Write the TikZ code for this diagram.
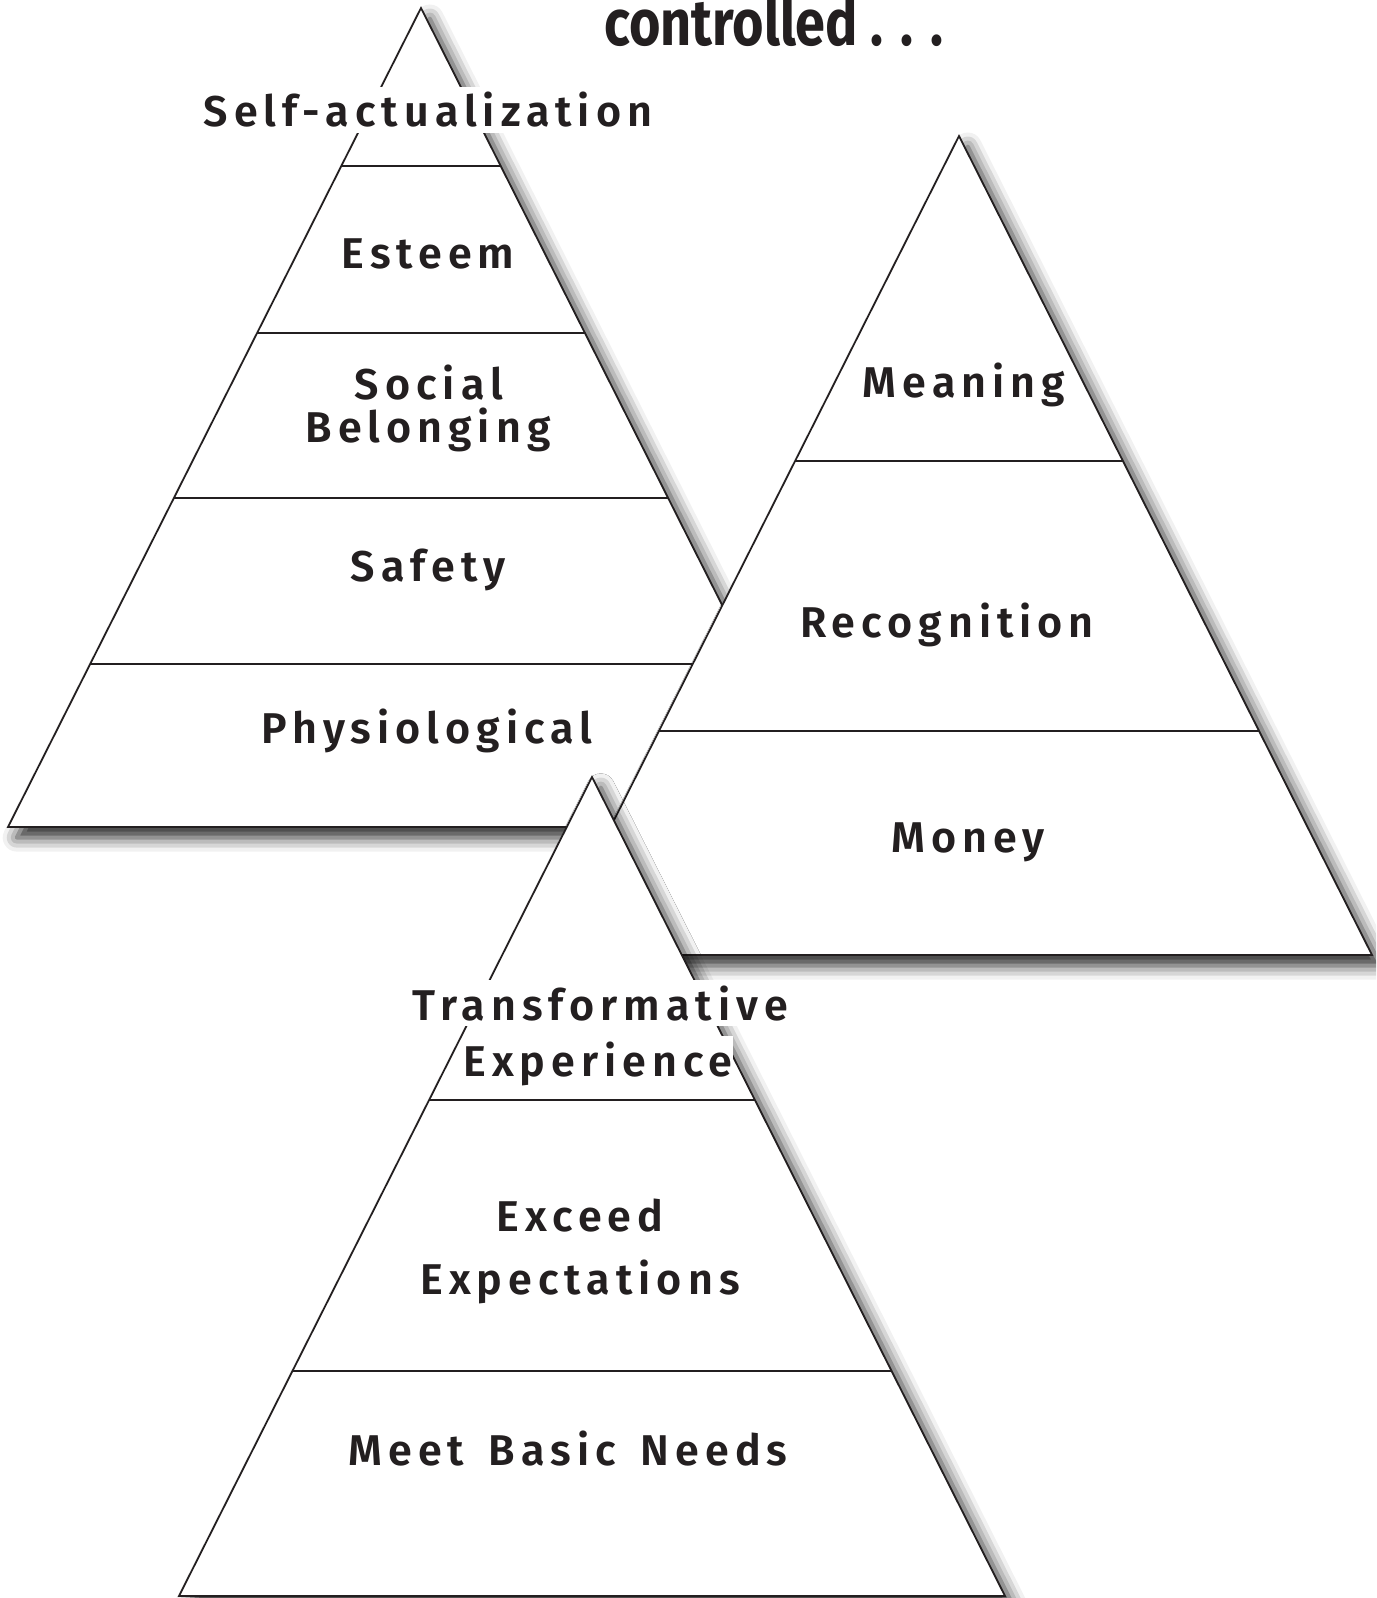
\documentclass[tikz,border=0pt]{standalone}
\usepackage{fontspec}
\usetikzlibrary{shadows.blur}

\newfontfamily\labelfont{Fira Sans SemiBold}[LetterSpace=14, WordSpace=1.5]
\newfontfamily\titlefont{Fira Sans}[FakeStretch=0.83]
\definecolor{ink}{HTML}{231F20}

% one pyramid: #1 apex, #2 depths of the dividing lines below the apex
\newcommand\pyramid[2]{%
  \fill[white, blur shadow={shadow xshift=5pt, shadow yshift=-6pt, shadow blur radius=8pt, shadow opacity=85}]
    (#1) -- ++(-413,819) -- ++(826,0) -- cycle;
  \begin{scope}
    \clip (#1) -- ++(-413,819) -- ++(826,0) -- cycle;
    \foreach \d in {#2}
      \draw[edge, shift={(#1)}] (-430,\d) -- (430,\d);
  \end{scope}
  \draw[edge] (#1) -- ++(-413,819) -- ++(826,0) -- cycle;
}

\begin{document}
\begin{tikzpicture}[
  x=0.02cm, y=-0.02cm,
  edge/.style={draw=ink, line width=1pt, line join=miter},
  level/.style={font=\labelfont\fontsize{24.5}{25}\selectfont, text=ink, fill=white, inner xsep=0pt, inner ysep=3pt, anchor=base},
  heading/.style={font=\titlefont\bfseries\fontsize{37}{40}\selectfont, text=ink, anchor=base}
]
  \useasboundingbox (0,0) rectangle (1376,1598);
  \clip (0,0) rectangle (1376,1598);

  \node[heading] (title) at (774,46) {controlled . . .};

  % needs
  \pyramid{421,8}{158,325,490,656}
  \node[level] (selfact) at (428,127) {Self-actualization};
  \node[level] (esteem) at (428,269) {Esteem};
  \node[level] (social) at (429,399) {Social};
  \node[level] (belong) at (428,442) {Belonging};
  \node[level] (safety) at (428,581) {Safety};
  \node[level] (physio) at (427,743) {Physiological};

  % work
  \pyramid{959,136}{325,595}
  \node[level] (meaning) at (964,397) {Meaning};
  \node[level] (recog) at (947,637) {Recognition};
  \node[level] (money) at (968,852) {Money};

  % customer
  \pyramid{592,777}{323,594}
  \node[level] (transf) at (600,1020) {Transformative};
  \node[level] (exper) at (598,1076) {Experience};
  \node[level] (exceed) at (580,1231) {Exceed};
  \node[level] (expect) at (580,1294) {Expectations};
  \node[level] (basic) at (568,1465) {Meet Basic Needs};
\end{tikzpicture}
\end{document}
